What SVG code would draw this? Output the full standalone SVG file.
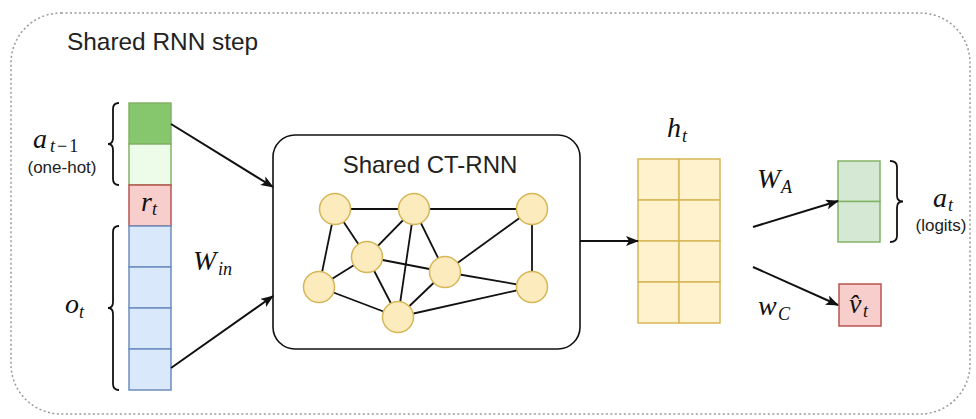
<svg xmlns="http://www.w3.org/2000/svg" width="976" height="419" viewBox="0 0 976 419">
<style>
.sans{font-family:"Liberation Sans",Arial,sans-serif;fill:#222}
.m{font-family:"Liberation Serif","Times New Roman",serif;font-style:italic;fill:#111}
.big{font-size:28px}
.sub{font-size:18px}
.up{font-style:normal}
.edge{stroke:#111;stroke-width:1.8;fill:none}
.conn{stroke:#111;stroke-width:2;fill:none;marker-end:url(#ah)}
.node{fill:#fcebbd;stroke:#d6b656;stroke-width:1.5}
.cy{fill:#fff2cc;stroke:#d6b656;stroke-width:1.5}
.gd{fill:#86c76d;stroke:#82b366;stroke-width:1.5}
.gl{fill:#edfbe9;stroke:#82b366;stroke-width:1.5}
.gm{fill:#d5e8d4;stroke:#82b366;stroke-width:1.5}
.rd{fill:#f8cecc;stroke:#b85450;stroke-width:1.5}
.bl{fill:#dae8fc;stroke:#6c8ebf;stroke-width:1.5}
.brace{stroke:#111;stroke-width:1.8;fill:none}
</style>
<defs>
<marker id="ah" markerWidth="13" markerHeight="10" refX="12" refY="5" orient="auto" markerUnits="userSpaceOnUse">
<path d="M0,0 L13,5 L0,10 L3,5 Z" fill="#111"/>
</marker>
</defs>
<rect width="976" height="419" fill="#fff"/>
<g id="frame">
<rect x="11" y="13" width="959" height="401" rx="50" fill="none" stroke="#999" stroke-width="1.5" stroke-dasharray="2 2.5"/>
<text class="sans" x="67" y="50" font-size="24.4">Shared RNN step</text>
</g>
<g id="input">
<rect class="gd" x="129" y="103" width="42" height="41"/>
<rect class="gl" x="129" y="144" width="42" height="41"/>
<rect class="rd" x="129" y="185" width="42" height="41"/>
<rect class="bl" x="129" y="226" width="42" height="41"/>
<rect class="bl" x="129" y="267" width="42" height="41"/>
<rect class="bl" x="129" y="308" width="42" height="41"/>
<rect class="bl" x="129" y="349" width="42" height="41"/>
<text class="m big" x="141" y="211">r</text><text class="m sub" x="152" y="215">t</text>
<path class="brace" d="M119,103 Q113,103 113,109 L113,138 Q113,144 108,144 Q113,144 113,150 L113,179 Q113,185 119,185"/>
<path class="brace" d="M119,226 Q113,226 113,232 L113,302 Q113,308 108,308 Q113,308 113,314 L113,384 Q113,390 119,390"/>
<text class="m big" x="33" y="148">a</text><text class="m sub" x="50" y="152">t<tspan class="up" dx="2">−</tspan><tspan class="up" dx="2">1</tspan></text>
<text class="sans" x="62" y="173" font-size="17" text-anchor="middle">(one-hot)</text>
<text class="m big" x="65" y="313">o</text><text class="m sub" x="79" y="318">t</text>
<text class="m big" x="193" y="270">W</text><text class="m sub" x="218" y="275">in</text>
</g>
<g id="ctrnn">
<rect x="273" y="135" width="307" height="214" rx="22" fill="#fff" stroke="#111" stroke-width="1.6"/>
<text class="sans" x="430" y="173" font-size="24" text-anchor="middle">Shared CT-RNN</text>
<g id="graph-edges">
<line class="edge" x1="335" y1="209" x2="414" y2="209"/>
<line class="edge" x1="414" y1="209" x2="532" y2="209"/>
<line class="edge" x1="335" y1="209" x2="367" y2="257"/>
<line class="edge" x1="335" y1="209" x2="319" y2="287"/>
<line class="edge" x1="414" y1="209" x2="367" y2="257"/>
<line class="edge" x1="414" y1="209" x2="398" y2="317"/>
<line class="edge" x1="414" y1="209" x2="445" y2="272"/>
<line class="edge" x1="532" y1="209" x2="445" y2="272"/>
<line class="edge" x1="532" y1="209" x2="532" y2="287"/>
<line class="edge" x1="367" y1="257" x2="319" y2="287"/>
<line class="edge" x1="367" y1="257" x2="445" y2="272"/>
<line class="edge" x1="367" y1="257" x2="398" y2="317"/>
<line class="edge" x1="319" y1="287" x2="398" y2="317"/>
<line class="edge" x1="445" y1="272" x2="398" y2="317"/>
<line class="edge" x1="445" y1="272" x2="532" y2="287"/>
<line class="edge" x1="398" y1="317" x2="532" y2="287"/>
</g>
<circle id="n1" class="node" cx="335" cy="209" r="15.5"/>
<circle id="n2" class="node" cx="414" cy="209" r="15.5"/>
<circle id="n3" class="node" cx="532" cy="209" r="15.5"/>
<circle id="n4" class="node" cx="367" cy="257" r="15.5"/>
<circle id="n5" class="node" cx="445" cy="272" r="15.5"/>
<circle id="n6" class="node" cx="319" cy="287" r="15.5"/>
<circle id="n7" class="node" cx="532" cy="287" r="15.5"/>
<circle id="n8" class="node" cx="398" cy="317" r="15.5"/>
</g>
<g id="hidden">
<rect class="cy" x="638" y="159" width="41" height="41"/>
<rect class="cy" x="679" y="159" width="41" height="41"/>
<rect class="cy" x="638" y="200" width="41" height="41"/>
<rect class="cy" x="679" y="200" width="41" height="41"/>
<rect class="cy" x="638" y="241" width="41" height="41"/>
<rect class="cy" x="679" y="241" width="41" height="41"/>
<rect class="cy" x="638" y="282" width="41" height="41"/>
<rect class="cy" x="679" y="282" width="41" height="41"/>
<text class="m big" x="667" y="137">h</text><text class="m sub" x="682" y="142">t</text>
</g>
<g id="actor">
<rect class="gm" x="838" y="161" width="42" height="40.5"/>
<rect class="gm" x="838" y="201.5" width="42" height="40.5"/>
<path class="brace" d="M890,161 Q897,161 897,167 L897,195.5 Q897,201.5 903,201.5 Q897,201.5 897,207.5 L897,236 Q897,242 890,242"/>
<text class="m big" x="933" y="207">a</text><text class="m sub" x="948" y="211">t</text>
<text class="sans" x="941" y="231" font-size="17" text-anchor="middle">(logits)</text>
<text class="m big" x="757" y="188">W</text><text class="m sub" x="781" y="193">A</text>
</g>
<g id="critic">
<rect class="rd" x="839" y="284" width="42" height="42"/>
<text class="m big" x="849" y="313">v̂</text><text class="m sub" x="863" y="317">t</text>
<text class="m big" x="758" y="315">w</text><text class="m sub" x="778" y="320">C</text>
</g>
<g id="connectors">
<line class="conn" x1="171" y1="124" x2="273" y2="187"/>
<line class="conn" x1="171" y1="368" x2="273" y2="296"/>
<line class="conn" x1="580" y1="241" x2="638" y2="241"/>
<line class="conn" x1="753" y1="227" x2="838" y2="201"/>
<line class="conn" x1="753" y1="267" x2="838" y2="305"/>
</g>
</svg>
